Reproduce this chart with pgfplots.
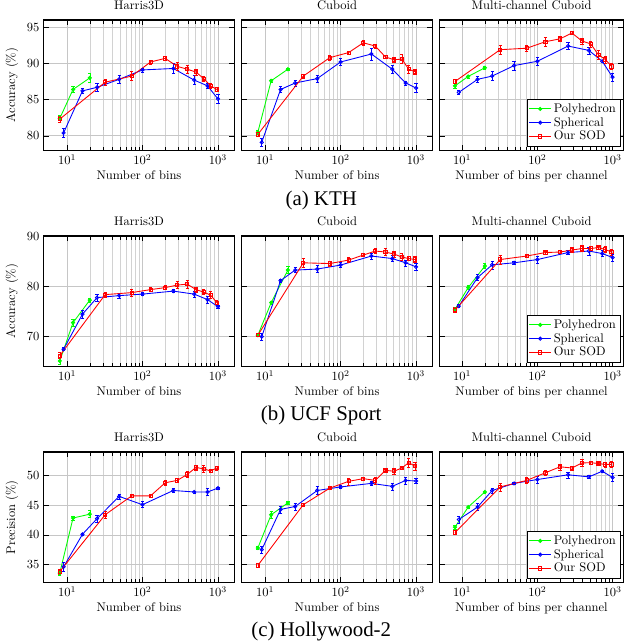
\documentclass[border=0pt]{standalone}
\usepackage{fontspec}
\newfontfamily\capfont{Liberation Serif}
\usepackage{pgfplots}
\pgfplotsset{compat=1.18}
\usepgfplotslibrary{groupplots}
\begin{document}
\begin{tikzpicture}
\begin{groupplot}[
    group style={group size=3 by 3, horizontal sep=6pt, vertical sep=68.6pt},
    scale only axis,
    xmode=log,
    height=104.2pt, width=152.5pt,
    xmin=4.9, xmax=1650,
    xtick={10,100,1000},
    grid=both,
    major grid style={gray!45, line width=0.6pt},
    minor grid style={gray!35, line width=0.4pt},
    axis line style={line width=0.9pt},
    tick align=inside,
    tick style={black, line width=0.4pt},
    title style={yshift=-1pt},
    xlabel style={yshift=2pt},
    every axis plot/.append style={line width=0.7pt, mark size=1.3pt},
    legend cell align=left,
    legend style={at={(0.986,0.028)}, anchor=south east, row sep=-1.5pt, inner sep=1.5pt, line width=0.7pt},
]
% ---------------- Row 1: KTH ----------------
\nextgroupplot[ymin=78, ymax=96, ytick={80,85,90,95}, title={Harris3D}, xlabel={Number of bins}, ylabel={Accuracy (\%)}]
\addplot[green, mark=*, error bars/.cd, y dir=both, y explicit] table[y error index=2] {
x y e
8 82.4 0.5
12 86.4 0.4
20 88.0 0.6
};
\addplot[blue, mark=o, error bars/.cd, y dir=both, y explicit] table[y error index=2] {
x y e
9 80.4 0.6
16 86.2 0.3
25 86.7 0.5
49 87.8 0.5
100 89.1 0.3
256 89.3 0.7
484 87.7 0.6
729 86.9 0.4
1000 85.1 0.6
};
\addplot[red, mark=square, error bars/.cd, y dir=both, y explicit] table[y error index=2] {
x y e
8 82.3 0.4
32 87.4 0.4
72 88.25 0.6
128 90.2 0.3
200 90.7 0.3
288 89.6 0.5
392 89.2 0.6
512 88.8 0.4
648 87.9 0.3
800 86.9 0.4
968 86.4 0.3
};
\nextgroupplot[ymin=78, ymax=96, ytick={80,85,90,95}, yticklabels={}, title={Cuboid}, xlabel={Number of bins}]
\addplot[green, mark=*, error bars/.cd, y dir=both, y explicit] table[y error index=2] {
x y e
8 80.5 0.3
12 87.6 0.2
20 89.2 0.2
};
\addplot[blue, mark=o, error bars/.cd, y dir=both, y explicit] table[y error index=2] {
x y e
9 79.1 0.5
16 86.4 0.4
25 87.3 0.4
49 87.9 0.5
100 90.2 0.5
256 91.3 0.8
484 89.2 0.5
729 87.3 0.3
1000 86.6 0.6
};
\addplot[red, mark=square, error bars/.cd, y dir=both, y explicit] table[y error index=2] {
x y e
8 80.2 0.3
32 88.25 0.3
72 90.8 0.3
128 91.5 0.2
200 92.85 0.4
288 92.4 0.3
392 90.9 0.2
512 90.5 0.4
648 90.6 0.6
800 89.2 0.6
968 88.85 0.4
};
\nextgroupplot[width=146.6pt, xmin=5.05, xmax=1384, ymin=78, ymax=96, ytick={80,85,90,95}, yticklabels={}, title={Multi-channel Cuboid}, xlabel={Number of bins per channel}]
\addplot[green, mark=*, error bars/.cd, y dir=both, y explicit] table[y error index=2] {
x y e
8 86.9 0.4
12 88.2 0.2
20 89.4 0.2
};
\addplot[blue, mark=o, error bars/.cd, y dir=both, y explicit] table[y error index=2] {
x y e
9 86.0 0.3
16 87.8 0.4
25 88.25 0.6
49 89.7 0.6
100 90.3 0.5
256 92.4 0.5
484 91.8 0.5
729 90.3 0.2
1000 88.1 0.5
};
\addplot[red, mark=square, error bars/.cd, y dir=both, y explicit] table[y error index=2] {
x y e
8 87.5 0.3
32 91.9 0.6
72 92.1 0.4
128 93.0 0.6
200 93.4 0.3
288 94.2 0.2
392 93.1 0.4
512 92.7 0.4
648 91.2 0.6
800 90.55 0.5
968 89.6 0.4
};
\legend{Polyhedron,Spherical,Our SOD}
% ---------------- Row 2: UCF Sport ----------------
\nextgroupplot[ymin=64, ymax=90, ytick={70,80,90}, title={Harris3D}, xlabel={Number of bins}, ylabel={Accuracy (\%)}]
\addplot[green, mark=*, error bars/.cd, y dir=both, y explicit] table[y error index=2] {
x y e
8 65.05 0.6
12 72.7 0.7
20 77.2 0.4
};
\addplot[blue, mark=o, error bars/.cd, y dir=both, y explicit] table[y error index=2] {
x y e
9 67.4 0.3
16 74.4 0.8
25 77.7 0.7
49 78.1 0.5
100 78.4 0.3
256 79.0 0.3
484 78.4 0.6
729 77.3 0.7
1000 75.9 0.3
};
\addplot[red, mark=square, error bars/.cd, y dir=both, y explicit] table[y error index=2] {
x y e
8 66.1 0.6
32 78.3 0.5
72 78.7 0.7
128 79.3 0.4
200 79.7 0.4
288 80.2 0.7
392 80.4 0.8
512 79.3 0.5
648 78.8 0.5
800 78.2 0.7
968 76.7 0.4
};
\nextgroupplot[ymin=64, ymax=90, ytick={70,80,90}, yticklabels={}, title={Cuboid}, xlabel={Number of bins}]
\addplot[green, mark=*, error bars/.cd, y dir=both, y explicit] table[y error index=2] {
x y e
8 70.2 0.3
12 76.7 0.3
20 83.2 0.7
};
\addplot[blue, mark=o, error bars/.cd, y dir=both, y explicit] table[y error index=2] {
x y e
9 69.9 0.7
16 81.1 0.3
25 83.2 0.5
49 83.4 0.7
100 84.2 0.5
256 86.0 0.6
484 85.5 0.6
729 84.65 0.6
1000 83.85 0.7
};
\addplot[red, mark=square, error bars/.cd, y dir=both, y explicit] table[y error index=2] {
x y e
8 70.2 0.3
32 84.65 0.9
72 84.5 0.5
128 85.2 0.5
200 86.2 0.3
288 87.0 0.5
392 86.8 0.7
512 86.4 0.6
648 85.8 0.7
800 85.5 0.4
968 85.3 0.6
};
\nextgroupplot[width=146.6pt, xmin=5.05, xmax=1384, ymin=64, ymax=90, ytick={70,80,90}, yticklabels={}, title={Multi-channel Cuboid}, xlabel={Number of bins per channel}]
\addplot[green, mark=*, error bars/.cd, y dir=both, y explicit] table[y error index=2] {
x y e
8 75.35 0.4
12 79.7 0.4
20 84.0 0.5
};
\addplot[blue, mark=o, error bars/.cd, y dir=both, y explicit] table[y error index=2] {
x y e
9 76.0 0.3
16 81.7 0.6
25 84.25 0.8
49 84.65 0.3
100 85.3 0.7
256 86.7 0.4
484 87.0 0.8
729 86.5 0.6
1000 85.7 0.7
};
\addplot[red, mark=square, error bars/.cd, y dir=both, y explicit] table[y error index=2] {
x y e
8 75.2 0.5
32 85.3 0.9
72 86.0 0.3
128 86.7 0.3
200 86.8 0.3
288 87.2 0.5
392 87.5 0.6
512 87.5 0.4
648 87.7 0.3
800 87.3 0.6
968 86.8 0.6
};
\legend{Polyhedron,Spherical,Our SOD}
% ---------------- Row 3: Hollywood-2 ----------------
\nextgroupplot[ymin=32, ymax=54, ytick={35,40,45,50}, title={Harris3D}, xlabel={Number of bins}, ylabel={Precision (\%)}]
\addplot[green, mark=*, error bars/.cd, y dir=both, y explicit] table[y error index=2] {
x y e
8 33.55 0.3
12 42.85 0.3
20 43.5 0.6
};
\addplot[blue, mark=o, error bars/.cd, y dir=both, y explicit] table[y error index=2] {
x y e
9 34.6 0.7
16 40.1 0.2
25 42.75 0.6
49 46.5 0.4
100 45.1 0.5
256 47.5 0.3
484 47.25 0.2
729 47.25 0.6
1000 47.9 0.2
};
\addplot[red, mark=square, error bars/.cd, y dir=both, y explicit] table[y error index=2] {
x y e
8 33.8 0.4
32 43.4 0.6
72 46.6 0.2
128 46.6 0.3
200 48.8 0.5
288 49.2 0.3
392 50.2 0.5
512 51.4 0.4
648 51.15 0.6
800 50.8 0.3
968 51.3 0.3
};
\nextgroupplot[ymin=32, ymax=54, ytick={35,40,45,50}, yticklabels={}, title={Cuboid}, xlabel={Number of bins}]
\addplot[green, mark=*, error bars/.cd, y dir=both, y explicit] table[y error index=2] {
x y e
8 37.8 0.2
12 43.4 0.6
20 45.4 0.3
};
\addplot[blue, mark=o, error bars/.cd, y dir=both, y explicit] table[y error index=2] {
x y e
9 37.5 0.6
16 44.3 0.6
25 44.8 0.6
49 47.5 0.7
100 48.1 0.3
256 48.7 0.3
484 48.2 0.6
729 49.2 0.6
1000 49.1 0.4
};
\addplot[red, mark=square, error bars/.cd, y dir=both, y explicit] table[y error index=2] {
x y e
8 34.85 0.4
32 45.1 0.3
72 47.9 0.2
128 49.05 0.6
200 49.5 0.3
288 49.2 0.6
392 50.9 0.2
512 50.75 0.5
648 51.3 0.2
800 52.2 0.7
968 51.6 0.6
};
\nextgroupplot[width=146.6pt, xmin=5.05, xmax=1384, ymin=32, ymax=54, ytick={35,40,45,50}, yticklabels={}, title={Multi-channel Cuboid}, xlabel={Number of bins per channel}]
\addplot[green, mark=*, error bars/.cd, y dir=both, y explicit] table[y error index=2] {
x y e
8 41.3 0.3
12 44.7 0.2
20 47.25 0.2
};
\addplot[blue, mark=o, error bars/.cd, y dir=both, y explicit] table[y error index=2] {
x y e
9 42.6 0.6
16 44.7 0.6
25 47.5 0.4
49 48.7 0.2
100 49.35 0.6
256 50.15 0.5
484 49.8 0.2
729 50.75 0.2
1000 49.7 0.7
};
\addplot[red, mark=square, error bars/.cd, y dir=both, y explicit] table[y error index=2] {
x y e
8 40.4 0.3
32 48.1 0.7
72 49.2 0.5
128 50.5 0.5
200 51.5 0.5
288 51.3 0.3
392 52.15 0.6
512 52.2 0.3
648 52.05 0.2
800 51.9 0.4
968 51.9 0.5
};
\legend{Polyhedron,Spherical,Our SOD}
\end{groupplot}
% ---------------- Captions ----------------
\node[font=\capfont\fontsize{16.7}{19}\selectfont] at ([xshift=-12.7pt, yshift=-39.8pt]group c2r1.south) {(a) KTH};
\node[font=\capfont\fontsize{16.7}{19}\selectfont] at ([xshift=-12.7pt, yshift=-39.4pt]group c2r2.south) {(b) UCF Sport};
\node[font=\capfont\fontsize{16.7}{19}\selectfont] at ([xshift=-12.7pt, yshift=-39.4pt]group c2r3.south) {(c) Hollywood-2};
\pgfresetboundingbox
\path[use as bounding box] ([xshift=-34.96pt, yshift=16pt]group c1r1.north west) rectangle ([xshift=465.84pt, yshift=-499.2pt]group c1r1.north west);
\end{tikzpicture}
\end{document}
